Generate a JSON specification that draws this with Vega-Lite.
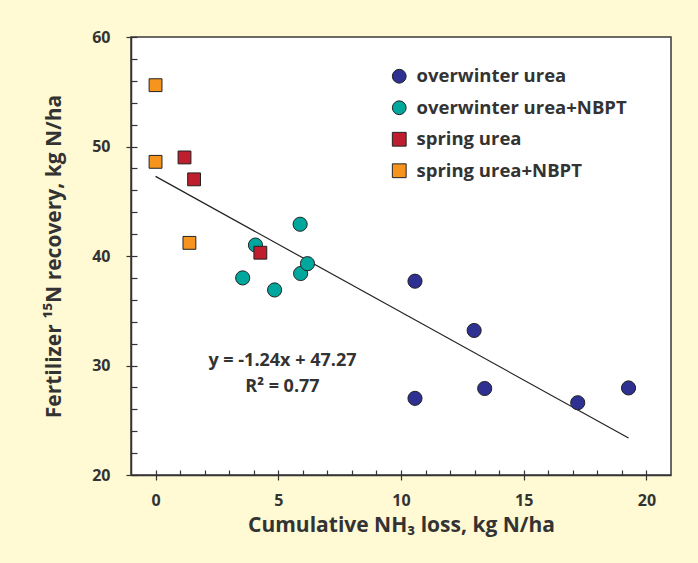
{
  "$schema": "https://vega.github.io/schema/vega-lite/v6.json",
  "width": 540,
  "height": 438,
  "autosize": {"type": "none"},
  "padding": {"left": 131, "top": 37, "right": 27, "bottom": 88},
  "background": "#FFF9D4",
  "config": {
    "view": {"fill": "white", "stroke": "#3a3a3a", "strokeWidth": 1.5},
    "font": "Open Sans",
    "axis": {
      "labelFont": "Open Sans", "labelFontWeight": "bold", "labelFontSize": 16, "labelColor": "#333",
      "titleFont": "Open Sans", "titleFontWeight": "bold", "titleFontSize": 21, "titleColor": "#333",
      "tickColor": "#333", "domainColor": "#333", "grid": false, "domainWidth": 1.5, "tickWidth": 1.2
    },
    "legend": {
      "labelFont": "Open Sans", "labelFontWeight": "bold", "labelFontSize": 18.5, "labelColor": "#333", "labelLimit": 400
    }
  },
  "datasets": {
    "points": [
      {"group": "overwinter urea+NBPT", "loss": 3.55, "recovery": 38.0},
      {"group": "overwinter urea+NBPT", "loss": 4.07, "recovery": 41.0},
      {"group": "overwinter urea+NBPT", "loss": 4.85, "recovery": 36.9},
      {"group": "overwinter urea+NBPT", "loss": 5.89, "recovery": 42.9},
      {"group": "overwinter urea+NBPT", "loss": 5.91, "recovery": 38.4},
      {"group": "overwinter urea+NBPT", "loss": 6.19, "recovery": 39.3},
      {"group": "overwinter urea", "loss": 10.57, "recovery": 37.7},
      {"group": "overwinter urea", "loss": 10.57, "recovery": 27.0},
      {"group": "overwinter urea", "loss": 12.98, "recovery": 33.2},
      {"group": "overwinter urea", "loss": 13.41, "recovery": 27.9},
      {"group": "overwinter urea", "loss": 17.2, "recovery": 26.6},
      {"group": "overwinter urea", "loss": 19.27, "recovery": 27.95},
      {"group": "spring urea", "loss": 1.18, "recovery": 49.0},
      {"group": "spring urea", "loss": 1.57, "recovery": 47.0},
      {"group": "spring urea", "loss": 4.27, "recovery": 40.3},
      {"group": "spring urea+NBPT", "loss": 0.0, "recovery": 55.6},
      {"group": "spring urea+NBPT", "loss": 0.0, "recovery": 48.6},
      {"group": "spring urea+NBPT", "loss": 1.38, "recovery": 41.2}
    ],
    "fit": [
      {"loss": 0, "recovery": 47.27},
      {"loss": 19.27, "recovery": 23.38}
    ],
    "notes": [
      {"loss": 5.17, "recovery": 30.4, "label": "y = -1.24x + 47.27"},
      {"loss": 5.17, "recovery": 28.0, "label": "R² = 0.77"}
    ]
  },
  "layer": [
    {
      "data": {"name": "fit"},
      "mark": {"type": "line", "color": "#222", "strokeWidth": 1.2},
      "encoding": {
        "x": {"field": "loss", "type": "quantitative",
              "scale": {"domain": [-1, 21], "nice": false, "zero": false},
              "axis": {"orient": "bottom", "values": [0,1,2,3,4,5,6,7,8,9,10,11,12,13,14,15,16,17,18,19,20],
                       "offset": -5, "tickSize": 5, "domain": false, "labels": false, "title": null}},
        "y": {"field": "recovery", "type": "quantitative",
              "scale": {"domain": [20, 60], "nice": false, "zero": false},
              "axis": {"orient": "left", "values": [20,22,24,26,28,30,32,34,36,38,40,42,44,46,48,50,52,54,56,58,60],
                       "offset": -6, "tickSize": 6, "domain": false, "labels": false, "title": null}}
      }
    },
    {
      "data": {"name": "points"},
      "mark": {"type": "point", "filled": true, "opacity": 1, "stroke": "#222", "strokeWidth": 1},
      "encoding": {
        "x": {"field": "loss", "type": "quantitative",
              "scale": {"domain": [-1, 21], "nice": false, "zero": false},
              "axis": {"orient": "bottom", "values": [0, 5, 10, 15, 20], "tickSize": 5, "labelPadding": 12,
                       "title": "Cumulative NH₃ loss, kg N/ha", "titlePadding": 6}},
        "y": {"field": "recovery", "type": "quantitative",
              "scale": {"domain": [20, 60], "nice": false, "zero": false},
              "axis": {"orient": "left", "values": [20, 30, 40, 50, 60], "tickSize": 5, "labelPadding": 16,
                       "title": "Fertilizer ¹⁵N recovery, kg N/ha", "titlePadding": 27}},
        "color": {"field": "group", "type": "nominal",
                  "scale": {"domain": ["overwinter urea", "overwinter urea+NBPT", "spring urea", "spring urea+NBPT"],
                            "range": ["#2E3192", "#00A79D", "#BE1E2D", "#F7941E"]},
                  "legend": {"title": null, "orient": "none", "legendX": 259, "legendY": 30,
                             "symbolSize": 190, "symbolStrokeColor": "#222", "symbolStrokeWidth": 1,
                             "labelOffset": 8, "rowPadding": 12.5, "padding": 0}},
        "shape": {"field": "group", "type": "nominal",
                  "scale": {"domain": ["overwinter urea", "overwinter urea+NBPT", "spring urea", "spring urea+NBPT"],
                            "range": ["circle", "circle", "square", "square"]}},
        "size": {"condition": {"test": "indexof(datum.group, 'spring') === 0", "value": 165}, "value": 200}
      }
    },
    {
      "data": {"name": "notes"},
      "mark": {"type": "text", "font": "Open Sans", "fontWeight": "bold", "fontSize": 18, "color": "#333", "baseline": "middle", "align": "center"},
      "encoding": {
        "x": {"field": "loss", "type": "quantitative", "scale": {"domain": [-1, 21], "nice": false, "zero": false}, "axis": null},
        "y": {"field": "recovery", "type": "quantitative", "scale": {"domain": [20, 60], "nice": false, "zero": false}, "axis": null},
        "text": {"field": "label"}
      }
    }
  ],
  "resolve": {"axis": {"x": "independent", "y": "independent"}}
}
